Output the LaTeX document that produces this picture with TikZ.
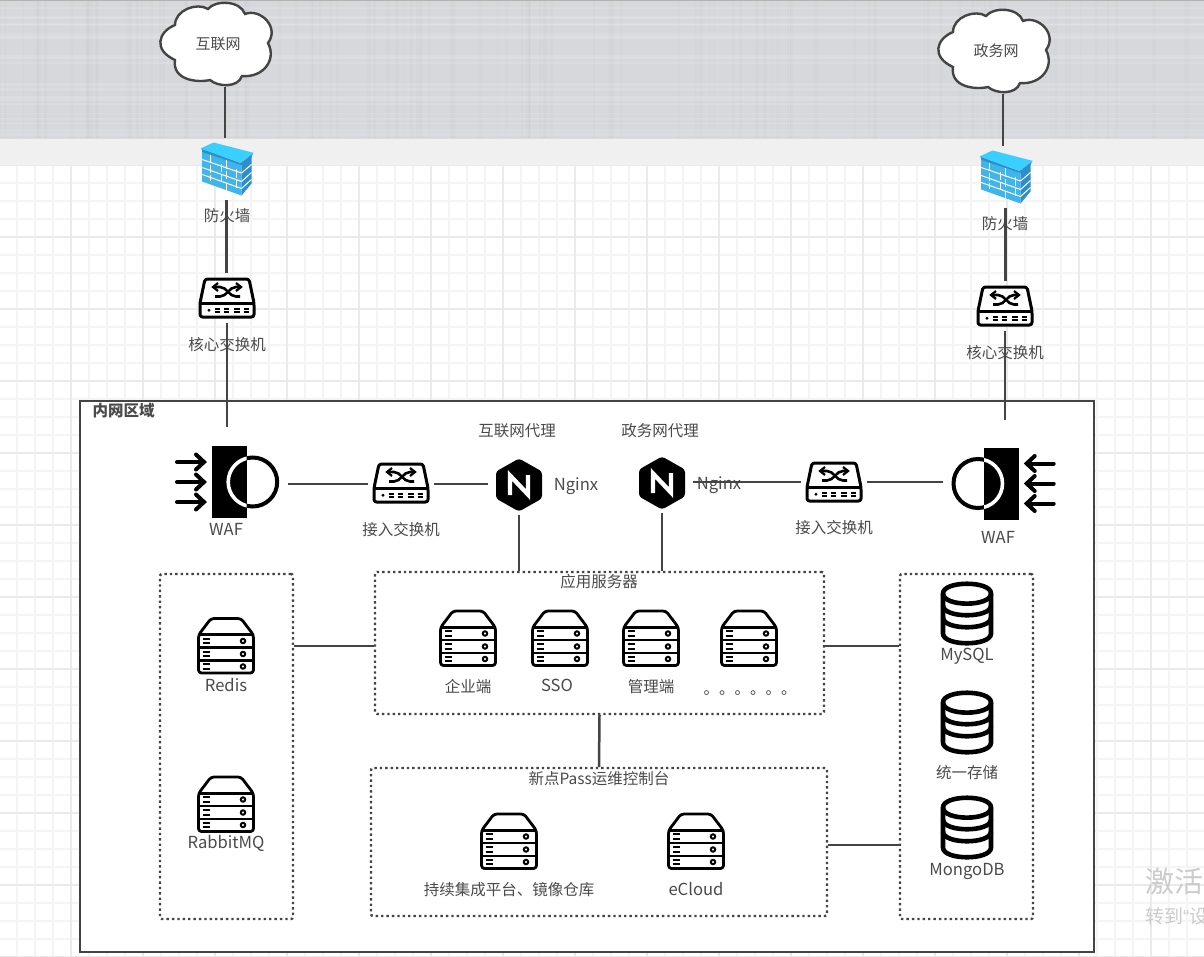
\documentclass[tikz,border=0pt]{standalone}
\usepackage{fontspec}
\setmainfont{Noto Sans CJK SC}
\newfontfamily\latinmark{Liberation Sans}
\usetikzlibrary{calc}
\definecolor{ink}{HTML}{444444}
\definecolor{txt}{HTML}{4A4A4A}
\definecolor{bandgrey}{HTML}{D7D8DC}
\definecolor{bandlight}{HTML}{F0F0F0}
\definecolor{gridmin}{HTML}{F4F4F4}
\definecolor{gridmaj}{HTML}{EAEAEA}
\definecolor{wallfront}{HTML}{41B4EA}
\definecolor{wallside}{HTML}{2C8FCB}
\definecolor{walltop}{HTML}{3ACFFF}
\tikzset{
  link/.style={draw=ink,line width=2.5pt},
  lbl/.style={inner sep=0pt,text=txt,font=\fontsize{15.5}{18}\selectfont,text height=14pt,text depth=1pt},
  latinlbl/.style={lbl,font=\fontsize{16.6}{18}\selectfont},
  boldlbl/.style={lbl,font=\fontsize{15.5}{18}\selectfont\bfseries},
  iconbox/.style={inner sep=0pt,outer sep=5pt,minimum width=#1},
  dotbox/.style={draw=ink,line width=2.4pt,dash pattern=on 2.4pt off 3pt,rounded corners=2pt,inner sep=0pt,outer sep=1pt},
  switchicon/.pic={
    \draw[black,line width=3pt,line join=round,rounded corners=2.5pt,fill=white] (-22,-19) -- (22,-19) -- (27,5) -- (27,19) -- (-27,19) -- (-27,5) -- cycle;
    \draw[black,line width=3pt] (-27,5.5) -- (27,5.5);
    \fill[black] (-18,12.2) circle (1.6pt);
    \foreach \a/\b in {-12.3/-6.7,-3.3/2.3,7.3/12.7,16.7/22} \draw[black,line width=2.4pt] (\a,10.8) -- (\b,10.8) (\a,13.8) -- (\b,13.8);
    \draw[black,line width=2.6pt] (-12,-1.5) -- (-7,-1.5) .. controls (0,-1.5) and (2,-11) .. (9,-11) -- (14,-11);
    \draw[black,line width=2.6pt] (-13,-11) -- (-7,-11) .. controls (0,-11) and (2,-1.5) .. (9,-1.5) -- (13,-1.5);
    \draw[black,line width=2.2pt] (-9,-15) -- (-14,-11) -- (-9,-7);
    \draw[black,line width=2.2pt] (9,-15) -- (14,-11) -- (9,-7);
  },
  servericon/.pic={
    \draw[black,line width=2.8pt,line join=round,rounded corners=3pt,fill=white] (-15,-27) -- (15,-27) -- (27.5,-10.5) -- (27.5,27.5) -- (-27.5,27.5) -- (-27.5,-10.5) -- cycle;
    \foreach \r in {-10.8,2,15} \draw[black,line width=2.6pt] (-27.5,\r) -- (27.5,\r);
    \foreach \c in {-4.5,8.5,21} {
      \draw[black,line width=2pt] (-23.5,\c-2.3) -- (-16.5,\c-2.3) (-23.5,\c+2.3) -- (-16.5,\c+2.3);
      \draw[black,line width=2pt,fill=white] (17,\c) circle (2.2pt);
    }
  },
  dbicon/.pic={
    \draw[black,line width=4.6pt,fill=white] (-24,-20) .. controls (-24,-33) and (24,-33) .. (24,-20) -- (24,20) .. controls (24,33) and (-24,33) .. (-24,20) -- cycle;
    \draw[black,line width=4.6pt] (-24,-20) .. controls (-24,-6.5) and (24,-6.5) .. (24,-20);
    \draw[black,line width=4.6pt] (-24,-8) .. controls (-24,5) and (24,5) .. (24,-8);
    \draw[black,line width=4.6pt] (-24,4) .. controls (-24,17) and (24,17) .. (24,4);
  },
  nginxicon/.pic={
    \fill[black,rounded corners=3pt] (0,-26.5) -- (23,-13.5) -- (23,13.5) -- (0,26.5) -- (-23,13.5) -- (-23,-13.5) -- cycle;
    \draw[white,line width=4.4pt,line join=miter] (-9,10) -- (-9,-9.5) -- (9,9.5) -- (9,-10);
  },
  wallicon/.pic={
    \fill[fill=wallfront] (-24.3,-17.7) -- (15,-5) -- (15,27) -- (-24.3,13) -- cycle;
    \fill[fill=wallside] (15,-5) -- (25,-13) -- (25,15) -- (15,27) -- cycle;
    \fill[fill=wallside] (-25,-20) -- (14,-5.5) -- (27,-15.7) -- (25,-12) -- (15,-3.5) -- (-24,-16.5) -- cycle;
    \fill[fill=walltop] (-26,-20) -- (-13,-26) -- (27,-15.7) -- (14,-5.5) -- cycle;
    \begin{scope}[white,line width=1pt]
      \draw (-24.3,-9) -- (15,4.5);
      \draw (-24.3,-1) -- (15,13);
      \draw (-24.3,6) -- (15,20);
      \draw (15,4.5) -- (25,-4) (15,13) -- (25,4) (15,20) -- (25,11);
      \draw (-16,-14) -- (-16,-6);
      \draw (0,-9) -- (0,0);
      \draw (-5,-5) -- (-5,3.5) (10,0) -- (10,9);
      \draw (-16,-3.5) -- (-16,4.5) (0,2) -- (0,10.5);
      \draw (-5,5) -- (-5,13.5) (10,11) -- (10,19);
      \draw (-16,6) -- (-16,12) (0,14) -- (0,22);
    \end{scope}
  },
  wafcore/.pic={
    \fill[black] (-17.5,-36) rectangle (17.5,36);
    \begin{scope}
      \clip (17.5,-40) rectangle (60,40);
      \draw[black,line width=4pt] (23.7,0) circle (24.5pt);
    \end{scope}
    \begin{scope}
      \clip (-17.5,-40) rectangle (17.5,40);
      \draw[white,line width=3.6pt] (23.7,0) circle (24.5pt);
    \end{scope}
    \foreach \yy in {-20,0,20} {
      \draw[black,line width=4pt,line cap=round] (-52,\yy) -- (-26,\yy);
      \draw[black,line width=4pt,line cap=round] (-33,\yy-7.5) -- (-25,\yy) -- (-33,\yy+7.5);
    }
  },
  cloudicon/.pic={
    \draw[draw=ink,line width=2.4pt,fill=white] (-42,-18) .. controls (-42,-33) and (-20,-41) .. (-9,-34)
      .. controls (-2,-43) and (23,-43) .. (28,-29)
      .. controls (43,-35) and (63,-16) .. (51,0)
      .. controls (60,17) and (46,35) .. (25,33)
      .. controls (21,45) and (1,44) .. (-7,37)
      .. controls (-20,40) and (-45,37) .. (-42,17)
      .. controls (-64,7) and (-59,-11) .. (-42,-18) -- cycle;
  }
}
\begin{document}
\begin{tikzpicture}[x=1pt,y=-1pt]
\useasboundingbox (0,0) rectangle (1204,956);
% page ground
\fill[white] (0,0) rectangle (1204,956);
\begin{scope}
  \clip (0,165) rectangle (1204,956);
  \foreach \k in {0,...,67} \draw[gridmin,line width=1.6pt] (-1+18*\k,165) -- (-1+18*\k,956);
  \foreach \k in {0,...,44} \draw[gridmin,line width=1.6pt] (0,165+18*\k) -- (1204,165+18*\k);
  \foreach \k in {0,...,16} \draw[gridmaj,line width=1.6pt] (-1+72*\k,165) -- (-1+72*\k,956);
  \foreach \k in {0,...,11} \draw[gridmaj,line width=1.6pt] (0,165+72*\k) -- (1204,165+72*\k);
\end{scope}
\fill[bandlight] (0,139) rectangle (1204,165);
\fill[bandgrey] (0,0) rectangle (1204,139);
\begin{scope}
  \clip (0,0) rectangle (1204,139);
  \pgfmathsetseed{7}
  \foreach \k in {1,...,110} {
    \pgfmathsetmacro{\px}{rnd*1204}
    \pgfmathsetmacro{\pw}{1+rnd*3}
    \draw[black!35,opacity=.06,line width=\pw pt] (\px,0) -- (\px,139);
  }
  \foreach \k in {1,...,24} {
    \pgfmathsetmacro{\py}{rnd*139}
    \pgfmathsetmacro{\pw}{1+rnd*2}
    \draw[white,opacity=.12,line width=\pw pt] (0,\py) -- (1204,\py);
  }
\end{scope}
\fill[black!30] (0,0) rectangle (1204,1);
\fill[black!14] (0,137.5) rectangle (1204,139);
% areas
\node[draw=ink,fill=white,line width=2.4pt,minimum width=1014pt,minimum height=551pt,inner sep=0pt,outer sep=0pt] (zone) at (587,676.5) {};
\node[dotbox,minimum width=133pt,minimum height=345pt] (leftBox) at (226.5,746.5) {};
\node[dotbox,minimum width=449pt,minimum height=142pt] (appBox) at (599.5,643) {};
\node[dotbox,minimum width=456pt,minimum height=148pt] (consoleBox) at (599,842) {};
\node[dotbox,minimum width=133pt,minimum height=345pt] (rightBox) at (966.5,746.5) {};
% watermark
\begin{scope}
  \clip (0,0) rectangle (1204,956);
  \node[inner sep=0pt,anchor=west,text=black!20,font=\fontsize{29}{32}\selectfont] (markA) at (1145,881) {激活};
  \node[inner sep=0pt,anchor=west,text=black!20,font=\fontsize{19}{22}\selectfont] (markB) at (1145,916) {转到{\latinmark “}设};
\end{scope}
% icons and their hit boxes
\pic at (217,43) {cloudicon};
\node[iconbox=110pt,minimum height=81pt,outer sep=3pt] (cloudA) at (217,43) {};
\pic at (995,50) {cloudicon};
\node[iconbox=110pt,minimum height=81pt,outer sep=3pt] (cloudB) at (995,50) {};
\pic at (226.5,168.5) {wallicon};
\node[iconbox=53pt,minimum height=53pt] (fwA) at (226.5,168.5) {};
\pic at (1005.5,176.5) {wallicon};
\node[iconbox=53pt,minimum height=53pt] (fwB) at (1005.5,176.5) {};
\pic at (227,298) {switchicon};
\node[iconbox=56pt,minimum height=40pt] (coreA) at (227,298) {};
\pic at (1005,306) {switchicon};
\node[iconbox=56pt,minimum height=40pt] (coreB) at (1005,306) {};
\pic at (401,483) {switchicon};
\node[iconbox=56pt,minimum height=40pt] (swA) at (401,484) {};
\pic at (834,482) {switchicon};
\node[iconbox=56pt,minimum height=40pt] (swB) at (834,482) {};
\pic at (229,482) {wafcore};
\node[iconbox=103pt,minimum height=72pt] (wafA) at (226.5,484) {};
\pic[xscale=-1] at (1001.7,483.5) {wafcore};
\node[iconbox=103pt,minimum height=72pt] (wafB) at (1004.5,482) {};
\pic at (519,485) {nginxicon};
\node[iconbox=46pt,minimum height=52pt,outer sep=8pt] (ngA) at (519,484) {};
\pic at (662,483) {nginxicon};
\node[iconbox=46pt,minimum height=52pt,outer sep=8pt] (ngB) at (662,482) {};
\pic at (226,645.5) {servericon};
\pic at (226,804) {servericon};
\pic at (468,638) {servericon};
\pic at (560,638) {servericon};
\pic at (651,638) {servericon};
\pic at (749,638) {servericon};
\pic at (509,841) {servericon};
\pic at (696,841) {servericon};
\pic at (967,613.5) {dbicon};
\pic at (967,722.5) {dbicon};
\pic at (967,827.5) {dbicon};
% labels
\node[lbl,font=\fontsize{15}{18}\selectfont] (tA) at (218,43) {互联网};
\node[lbl,font=\fontsize{15}{18}\selectfont] (tB) at (996,50) {政务网};
\node[lbl] (t1) at (227,215) {防火墙};
\node[lbl] (t2) at (1005,223) {防火墙};
\node[lbl] (t3) at (227,344) {核心交换机};
\node[lbl] (t4) at (1005,352) {核心交换机};
\node[boldlbl] (t5) at (123.5,410) {内网区域};
\node[lbl] (t6) at (517,430) {互联网代理};
\node[lbl] (t7) at (660,430) {政务网代理};
\node[latinlbl] (t8) at (226,529) {WAF};
\node[latinlbl] (t9) at (998,537) {WAF};
\node[lbl] (t10) at (401,529) {接入交换机};
\node[lbl] (t11) at (834,527) {接入交换机};
\node[latinlbl] (t12) at (576,484) {Nginx};
\node[latinlbl] (t13) at (719,483) {Nginx};
\node[lbl] (t14) at (599,581) {应用服务器};
\node[lbl] (t15) at (468,686) {企业端};
\node[latinlbl] (t16) at (557,685) {SSO};
\node[lbl] (t17) at (651,686) {管理端};
\node[lbl] (t18) at (750,688) {。。。。。。};
\node[lbl] (t19) at (599,778) {新点Pass运维控制台};
\node[lbl] (t20) at (509,889) {持续集成平台、镜像仓库};
\node[latinlbl] (t21) at (696,889) {eCloud};
\node[latinlbl] (t22) at (226,685) {Redis};
\node[latinlbl] (t23) at (226,842) {RabbitMQ};
\node[latinlbl] (t24) at (967,654) {MySQL};
\node[lbl] (t25) at (967,772) {统一存储};
\node[latinlbl] (t26) at (967,869) {MongoDB};
% connectors
\draw[link] ([xshift=8pt]cloudA.south) -- ([xshift=8pt,yshift=-1pt]cloudA.south |- fwA.north);
\draw[link] (fwA.south) -- (fwA.south |- coreA.north);
\draw[link] (coreA.south) -- ([yshift=16pt]wafA.north -| coreA.south);
\draw[link] ([xshift=8pt]cloudB.south) -- ([xshift=8pt,yshift=-1pt]cloudB.south |- fwB.north);
\draw[link] (fwB.south) -- (fwB.south |- coreB.north);
\draw[link] (coreB.south) -- ([yshift=21pt]wafB.north -| coreB.south);
\draw[link] ([xshift=5pt]wafA.east) -- (swA.west);
\draw[link] (swA.east) -- (ngA.west);
\draw[link] (ngB.east) -- (swB.west);
\draw[link] (swB.east) -- ([xshift=-5pt]wafB.west);
\draw[link] ([yshift=3pt]ngA.south) -- (ngA.south |- appBox.north);
\draw[link] ([yshift=3pt]ngB.south) -- (ngB.south |- appBox.north);
\draw[link] ([yshift=-3pt]appBox.west) -- ([yshift=-3pt]appBox.west -| leftBox.east);
\draw[link] ([yshift=-3pt]appBox.east) -- ([yshift=-3pt]appBox.east -| rightBox.west);
\draw[link] (appBox.south) -- (consoleBox.north);
\draw[link] ([yshift=-3pt]consoleBox.east) -- ([yshift=-3pt]consoleBox.east -| rightBox.west);
\end{tikzpicture}
\end{document}
